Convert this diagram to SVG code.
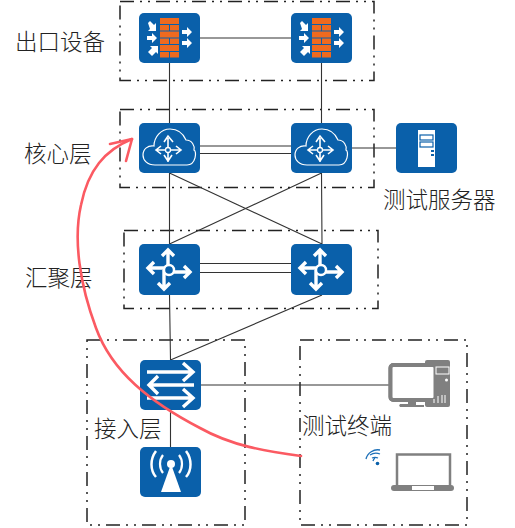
<svg xmlns="http://www.w3.org/2000/svg" width="515" height="528" viewBox="0 0 515 528">
<style>
.zone{fill:none;stroke:#222;stroke-width:1.5;stroke-dasharray:14 6 2 6 2 6}
.lnk{fill:none;stroke:#333;stroke-width:1.1}
.tile{fill:#0a60aa}
.w{fill:none;stroke:#fff;stroke-width:2.4}
.wt{fill:none;stroke:#fff;stroke-width:3.4}
.brick{fill:#ee6a1f}
.grey{fill:#808080}
text{font-family:"Noto Sans CJK SC","Noto Sans CJK JP",sans-serif;font-size:22.5px;font-weight:300;fill:#222}
</style>
<defs>
<g id="fw">
<rect class="tile" width="61" height="50" rx="5"/>
<g class="brick">
<rect x="21" y="5" width="19" height="6"/><rect x="21" y="12" width="9" height="5.5"/><rect x="31" y="12" width="9" height="5.5"/>
<rect x="21" y="18.500" width="19" height="6"/><rect x="21" y="25.500" width="9" height="5.500"/><rect x="31" y="25.500" width="9" height="5.500"/>
<rect x="21" y="32" width="19" height="6"/><rect x="21" y="39" width="9" height="5.500"/><rect x="31" y="39" width="9" height="5.500"/>
</g>
<g fill="#fff">
<path id="ar" d="M8 23h5v-3l5 5-5 5v-3H8z"/>
<path d="M43 17h5v-3l5 5-5 5v-3h-5z"/>
<path d="M43 28h5v-3l5 5-5 5v-3h-5z"/>
<path d="M9 8l2-2 4 4 2-2v8h-8l2-2z" transform="translate(0 2)"/>
<path d="M9 39l4-4-2-2h8v8l-2-2-4 4z" transform="translate(0 0)"/>
</g>
</g>
<g id="cross">
<path class="w" d="M30.500 25V8M26 12l4.500-4.500 4.500 4.500M30.500 25H10M14 20.500 9.500 25l4.500 4.500M30.500 25H51M47 20.500 51.500 25 47 29.500M30.500 25V42M26 38l4.500 4.500 4.500-4.500"/>
</g>
<g id="cloudT">
<rect class="tile" width="61" height="50" rx="5"/>
<path fill="none" stroke="#fff" stroke-width="1.2" d="M16 42C8 42 4 37 4 32c0-6 5-10 11-9 0-9 7-17 16-17 8 0 13 4 16 11 6 0 9 6 8 10 3 1 2 15-7 15z"/>
<path fill="none" stroke="#fff" stroke-width="1.6" d="M29 15V39M25 32l4 6M33 32l-4 6M25 19l4-6 5 6M18 27H41M22 23l-5 4 5 4M37 23l5 4-5 4"/>
<circle cx="29" cy="27" r="2.500" fill="#0a60aa" stroke="#fff" stroke-width="1.300"/>
</g>
<g id="rt">
<rect class="tile" width="61" height="51" rx="5"/>
<path class="wt" d="M29 24V6M23 12l6-6 6 6M30 24H10M15 18l-6 6 6 6M30 28H51M45 22l6 6-6 6M25 26V45M19 39l6 6 6-6"/>
<circle cx="30" cy="26" r="5" fill="#0a60aa" stroke="#fff" stroke-width="2.400"/>
</g>
</defs>

<g id="zones">
<rect class="zone" x="120" y="1.500" width="254" height="79"/>
<rect class="zone" x="120" y="109.500" width="254" height="78"/>
<rect class="zone" x="124" y="230.500" width="254" height="78"/>
<rect class="zone" x="87" y="340" width="158" height="185"/>
<rect class="zone" x="300" y="340" width="167" height="185"/>
</g>

<g id="connectors">
<path class="lnk" d="M200 38H291M169.500 63V123M321.500 63V123"/>
<path class="lnk" d="M200 146H291M200 153.500H291"/>
<path class="lnk" d="M352 148H396"/>
<path class="lnk" d="M169.500 173V244M321.500 173 322 244M169.500 173 322 244M321.500 173 169.500 244"/>
<path class="lnk" d="M200 263.500H291M200 272.500H291"/>
<path class="lnk" d="M169.500 295 170.500 360M322 295 170.500 360"/>
<path class="lnk" d="M170.500 410V447M201 385H392"/>
</g>

<g id="fw1" transform="translate(139 13)"><use href="#fw"/></g>
<g id="fw2" transform="translate(291 13)"><use href="#fw"/></g>
<g id="core1" transform="translate(139 123)"><use href="#cloudT"/></g>
<g id="core2" transform="translate(291 123)"><use href="#cloudT"/></g>

<g id="server" transform="translate(396 123)">
<rect class="tile" width="61" height="50" rx="5"/>
<rect x="22" y="7" width="17" height="37" fill="#fff"/>
<rect x="24" y="12" width="13" height="5" fill="#fff" stroke="#0a60aa" stroke-width="1.200"/>
<rect x="24" y="19" width="13" height="5" fill="#fff" stroke="#0a60aa" stroke-width="1.200"/>
<rect x="35" y="27" width="3" height="2" fill="#0a60aa"/><rect x="35" y="31" width="3" height="2" fill="#0a60aa"/>
</g>

<g id="agg1" transform="translate(139 244)"><use href="#rt"/></g>
<g id="agg2" transform="translate(291 244)"><use href="#rt"/></g>

<g id="access" transform="translate(140 360)">
<rect class="tile" width="61" height="50" rx="5"/>
<path class="wt" d="M7 12H53M43 3l10 9-10 9M54 25H9M18 16l-9 9 9 9M7 38H53M43 29l10 9-10 9"/>
</g>

<g id="ap" transform="translate(140 447)">
<rect class="tile" width="61" height="50" rx="5"/>
<path d="M31 17l10 28H21z" fill="#fff"/>
<circle cx="31" cy="17" r="4" fill="#fff"/>
<path fill="none" stroke="#fff" stroke-width="2.200" d="M23 8c-4 5-4 13 0 18M39 8c4 5 4 13 0 18"/>
<path fill="none" stroke="#fff" stroke-width="2.500" d="M16 4c-6 8-6 19 0 26M46 4c6 8 6 19 0 26"/>
</g>

<g id="pc">
<rect x="390.500" y="365" width="45" height="35" rx="3" fill="#fff" stroke="#808080" stroke-width="4"/>
<rect x="425" y="360" width="25" height="47" rx="2" class="grey"/>
<rect x="390.500" y="365" width="45" height="35" rx="3" fill="#fff" stroke="#808080" stroke-width="4"/>
<rect x="436" y="367" width="13" height="7" fill="#808080" stroke="#fff"/>
<circle cx="446.500" cy="380" r="1.500" fill="#fff"/>
<path d="M434 403v-4M438 403v-7M442 403v-8M445 403v-8" stroke="#fff" fill="none"/>
<path class="grey" d="M408 401h8v4h8v2h-24a2 2 0 0 1 0-3h8z"/>
</g>

<g id="laptop">
<rect x="397" y="454.500" width="53" height="33" fill="#fff" stroke="#808080" stroke-width="2.500"/>
<path class="grey" d="M394 485h57a3 3 0 0 1 3 3 3 3 0 0 1-3 3H394a3 3 0 0 1-3-3 3 3 0 0 1 3-3z"/>
<rect x="412" y="486" width="22" height="4" fill="#fff"/>
</g>

<g id="wifi" fill="none" stroke="#1d70b8" stroke-width="1.300">
<circle cx="377.500" cy="463.500" r="1.800" fill="#0a60aa" stroke="none"/>
<path d="M372 458a7 7 0 0 1 6 0M370 455a11 11 0 0 1 10-1M366 459a12 12 0 0 1 14-9"/>
<path d="M373 461a5 5 0 0 1 2-3"/>
</g>

<g id="labels">
<text x="15" y="50">出口设备</text>
<text x="24" y="162">核心层</text>
<text x="25" y="286">汇聚层</text>
<text x="94" y="437">接入层</text>
<text x="302" y="434">测试终端</text>
<text x="383" y="208">测试服务器</text>
</g>

<g id="annotation" fill="none" stroke="#fb5a62" stroke-width="2.600" stroke-linecap="round" stroke-linejoin="round">
<path d="M301 456C265 451 232 446 200 428 150 402 112 372 96 328 80 285 73 240 81 205 88 170 105 150 132 139"/>
<path d="M110 144 132 139 126 161"/>
</g>
</svg>
